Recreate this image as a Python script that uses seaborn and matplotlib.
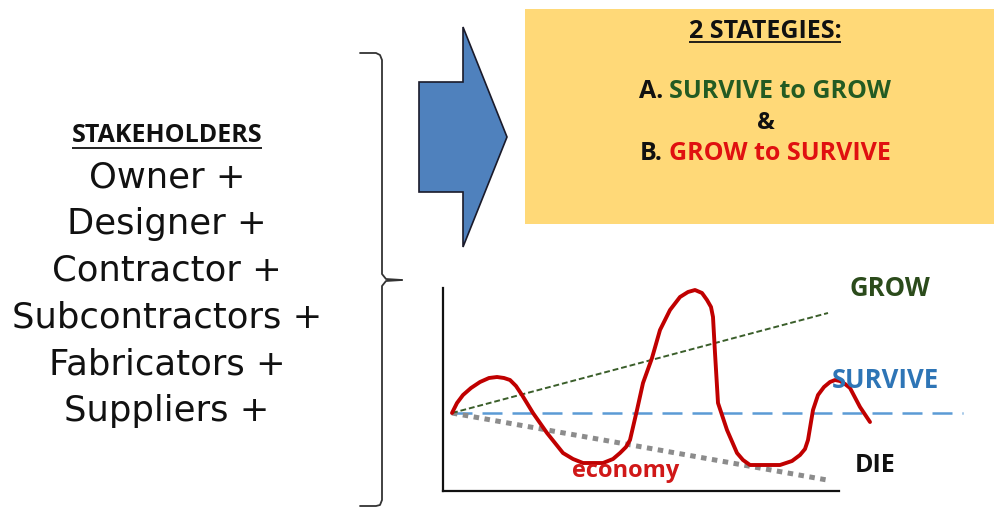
"""
Stakeholders / strategies diagram with a small economy sketch
"""
import matplotlib
matplotlib.use('Agg')
import pandas as pd
import matplotlib.pyplot as plt
from matplotlib.patches import Polygon, Rectangle
import seaborn as sns

## Chart data
stakeholder_title = 'STAKEHOLDERS'
stakeholders = ['Owner +', 'Designer +', 'Contractor +',
                'Subcontractors +', 'Fabricators +', 'Suppliers +']
strategy_title = '2 STATEGIES:'
strategy_a = ['A.', 'SURVIVE to GROW']
strategy_b = ['B.', 'GROW to SURVIVE']

# economy sketch (x = time, y = level), hand traced
economy_t = [9, 14, 20, 28, 37, 46, 54, 61, 67, 73, 79, 90, 104, 120, 130, 140,
             160, 170, 177, 183, 187, 194, 200, 209, 217, 227, 237, 245, 252,
             259, 264, 268, 270, 272, 275, 284, 294, 300, 307, 337, 349, 357,
             362, 365, 370, 375, 381, 387, 392, 397, 402, 407, 417, 427]
economy_v = [78, 88, 96, 103, 109, 113, 114, 113, 111, 105, 96, 78, 58, 38, 32, 28,
             28, 32, 38, 44, 51, 81, 108, 133, 161, 181, 194, 199, 201,
             198, 191, 184, 174, 138, 88, 61, 38, 31, 26, 26, 30, 36,
             42, 51, 81, 96, 104, 109, 111, 110, 107, 103, 84, 69]
grow_t, grow_v = [9, 385], [78, 178]
survive_t, survive_v = [9, 520], [78, 78]
die_t, die_v = [9, 384], [78, 11]

# colours
c_arrow = '#4F81BD'
c_box = '#FFD978'
c_green = '#235B23'
c_red = '#E01010'
c_econ = '#C00000'
c_blue = '#2E75B6'

sns.set_theme(style='white')
plt.rcParams['font.family'] = ['Open Sans', 'DejaVu Sans']

fig = plt.figure(figsize=(9.95, 5.08), dpi=100)
bg = fig.add_axes([0, 0, 1, 1])
bg.set_xlim(0, 995)
bg.set_ylim(508, 0)
bg.axis('off')
renderer = fig.canvas.get_renderer()


def underline(ax, txt, y, lw=1.3):
    bb = txt.get_window_extent(renderer).transformed(ax.transData.inverted())
    ax.plot([bb.x0, bb.x1], [y, y], color='#111111', lw=lw, solid_capstyle='butt')


def two_colour_line(ax, xc, y, parts, colours, size):
    full = ax.text(xc, y, parts[0] + ' ' + parts[1], ha='center', va='center',
                   fontsize=size, fontweight='bold', alpha=0)
    bb = full.get_window_extent(renderer).transformed(ax.transData.inverted())
    ax.text(bb.x0, y, parts[0], ha='left', va='center', fontsize=size,
            fontweight='bold', color=colours[0])
    ax.text(bb.x1, y, parts[1], ha='right', va='center', fontsize=size,
            fontweight='bold', color=colours[1])


## left column
t = bg.text(167, 136, stakeholder_title, ha='center', va='center',
            fontsize=18, fontweight='bold', color='#111111')
underline(bg, t, 148)
for i, name in enumerate(stakeholders):
    bg.text(167, 177 + i * 46.8, name, ha='center', va='center',
            fontsize=25.5, color='#111111', family=['DejaVu Sans'])

## curly bracket
bg.plot([360, 376, 380, 382, 382, 386, 402], [53, 53, 55, 60, 274, 279, 280],
        color='#333333', lw=1.3)
bg.plot([402, 386, 382, 382, 380, 376, 360], [280, 281, 286, 500, 505, 506, 506],
        color='#333333', lw=1.3)

## block arrow
bg.add_patch(Polygon([(419, 82), (463, 82), (463, 27), (507, 137), (463, 247),
                      (463, 192), (419, 192)], closed=True,
                     facecolor=c_arrow, edgecolor='#1a1a2a', lw=1.2))

## strategy box
bg.add_patch(Rectangle((525, 9), 470, 215, facecolor=c_box, edgecolor='none'))
t = bg.text(765, 31, strategy_title, ha='center', va='center',
            fontsize=18, fontweight='bold', color='#111111')
underline(bg, t, 42)
two_colour_line(bg, 765, 92, strategy_a, ['#111111', c_green], 18)
bg.text(766, 123, '&', ha='center', va='center', fontsize=17,
        fontweight='bold', color='#111111')
two_colour_line(bg, 765, 153, strategy_b, ['#111111', c_red], 18)

## economy sketch
ax = fig.add_axes([443 / 995, (508 - 491) / 508, 396 / 995, 203 / 508])
ax.patch.set_alpha(0)
ax.set_xlim(0, 396)
ax.set_ylim(0, 203)
ax.set_xticks([])
ax.set_yticks([])
sns.despine(ax=ax)
for s in ['left', 'bottom']:
    ax.spines[s].set_color('#111111')
    ax.spines[s].set_linewidth(1.6)

df_grow = pd.DataFrame({'t': grow_t, 'v': grow_v})
df_surv = pd.DataFrame({'t': survive_t, 'v': survive_v})
df_die = pd.DataFrame({'t': die_t, 'v': die_v})
df_econ = pd.DataFrame({'t': economy_t, 'v': economy_v})

ax.text(183, 20, 'economy', ha='center', va='center', fontsize=17,
        fontweight='bold', color='#D01818', clip_on=False)

sns.lineplot(data=df_surv, x='t', y='v', ax=ax, color='#5B9BD5', lw=1.8)
ax.lines[-1].set_dashes((8, 4))
ax.lines[-1].set_clip_on(False)
sns.lineplot(data=df_die, x='t', y='v', ax=ax, color='#8C8C8C', lw=3.6)
ax.lines[-1].set_dashes((1.1, 1.1))
sns.lineplot(data=df_grow, x='t', y='v', ax=ax, color='#3A5E2A', lw=1.4)
ax.lines[-1].set_dashes((3, 1.5))
sns.lineplot(data=df_econ, x='t', y='v', ax=ax, color=c_econ, lw=2.8,
             sort=False)
ax.lines[-1].set_clip_on(False)
ax.set_xlabel('')
ax.set_ylabel('')

ax.text(447, 203, 'GROW', ha='center', va='center', fontsize=18.5,
        fontweight='bold', color='#2B4B1B', clip_on=False)
ax.text(442, 111, 'SURVIVE', ha='center', va='center', fontsize=18.5,
        fontweight='bold', color=c_blue, clip_on=False)
ax.text(432, 26, 'DIE', ha='center', va='center', fontsize=18,
        fontweight='bold', color='#111111', clip_on=False)

fig.savefig('out.png', dpi=100)
